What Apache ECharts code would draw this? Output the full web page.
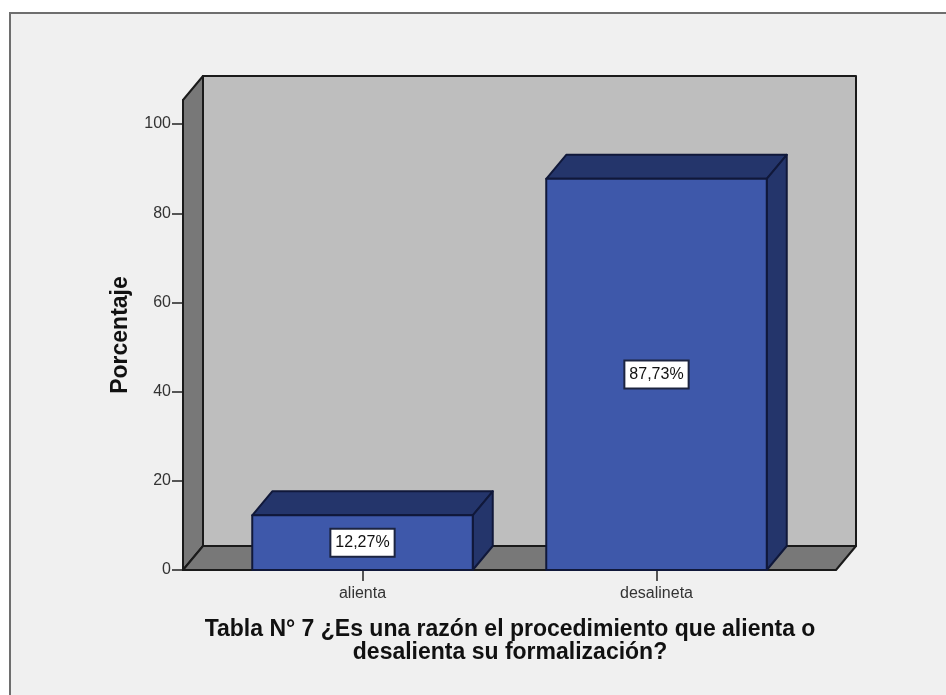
<!DOCTYPE html>
<html>
<head>
<meta charset="utf-8">
<style>
  html, body { margin: 0; padding: 0; background: #fff; overflow: hidden; }
  #frame { position: absolute; left: 9px; top: 12px; right: 0; bottom: 0; background: #f0f0f0;
           border-left: 2px solid #6e6e6e; border-top: 2px solid #6e6e6e; }
  #chart { position: absolute; left: 0; top: 0; width: 946px; height: 695px; }
</style>
<script src="https://cdn.jsdelivr.net/npm/echarts@6/dist/echarts.min.js"></script>
</head>
<body>
<div id="frame"></div>
<div id="chart"></div>
<script>
// Percentage of answers per category
const categories = ['alienta', 'desalineta'];
const percentages = [12.27, 87.73];
const yTicks = [0, 20, 40, 60, 80, 100];
const yTop = 105.4;
const titleText = 'Tabla N° 7 ¿Es una razón el procedimiento que alienta o\ndesalienta su formalización?';
const yName = 'Porcentaje';

// Box depth in pixels and floor margin beyond the category bands
const depthX = 20;
const depthY = 24;
const sidePad = 32.5;

const EDGE = '#1a1a1a';
const WALL = '#bebebe';
const SIDE = '#787878';
const BAR_FRONT = '#3e58aa';
const BAR_SHADE = '#24356b';
const BAR_EDGE = '#10183a';
const FONT = '"Liberation Sans", Arial, sans-serif';

function poly(points, fill, stroke, lineWidth) {
  return {
    type: 'polygon',
    shape: { points },
    style: { fill, stroke, lineWidth, lineJoin: 'round' }
  };
}

// Back wall, left wall and floor of the 3D plot box
function renderBox(params, api) {
  const c = params.coordSys;
  const l = c.x - sidePad, r = c.x + c.width + sidePad;
  const t = api.coord([0, yTop])[1], b = api.coord([0, 0])[1];
  return {
    type: 'group',
    children: [
      poly([[l + depthX, t - depthY], [r + depthX, t - depthY], [r + depthX, b - depthY], [l + depthX, b - depthY]], WALL, EDGE, 2),
      poly([[l, t], [l + depthX, t - depthY], [l + depthX, b - depthY], [l, b]], SIDE, EDGE, 2),
      poly([[l, b], [l + depthX, b - depthY], [r + depthX, b - depthY], [r, b]], SIDE, EDGE, 2)
    ]
  };
}

// One 3D bar with its boxed percentage label
function renderBar(params, api) {
  const idx = api.value(0);
  const val = api.value(1);
  const base = api.coord([idx, 0]);
  const head = api.coord([idx, val]);
  const half = api.size([1, 0])[0] * 0.75 / 2;
  const l = base[0] - half, r = base[0] + half;
  const t = head[1], b = base[1];
  return {
    type: 'group',
    children: [
      poly([[l, t], [l + depthX, t - depthY], [r + depthX, t - depthY], [r, t]], BAR_SHADE, BAR_EDGE, 2),
      poly([[r, t], [r + depthX, t - depthY], [r + depthX, b - depthY], [r, b]], BAR_SHADE, BAR_EDGE, 2),
      poly([[l, t], [r, t], [r, b], [l, b]], BAR_FRONT, BAR_EDGE, 2),
      {
        type: 'text',
        x: base[0],
        y: (t + b) / 2,
        style: {
          text: val.toFixed(2).replace('.', ',') + '%',
          font: '16px ' + FONT,
          fill: '#111',
          align: 'center',
          verticalAlign: 'middle',
          backgroundColor: '#fff',
          borderColor: '#1c2440',
          borderWidth: 2,
          padding: [5, 4, 5, 4]
        }
      }
    ]
  };
}

const chart = echarts.init(document.getElementById('chart'), null, { renderer: 'canvas' });
chart.setOption({
  animation: false,
  backgroundColor: 'transparent',
  title: {
    text: titleText,
    left: 505,
    top: 613,
    textAlign: 'center',
    textStyle: { fontFamily: FONT, fontSize: 23, fontWeight: 'bold', color: '#111', lineHeight: 23 }
  },
  grid: { left: 215.5, width: 588, top: 100, height: 470 },
  xAxis: {
    type: 'category',
    data: categories,
    axisLine: { show: false },
    axisTick: { show: true, alignWithLabel: true, length: 11, lineStyle: { color: '#222', width: 1.5 } },
    axisLabel: { color: '#333', fontFamily: FONT, fontSize: 16, margin: 16 }
  },
  yAxis: {
    type: 'value',
    min: 0,
    max: yTop,
    offset: sidePad,
    name: yName,
    nameLocation: 'middle',
    nameGap: 51,
    nameTextStyle: { fontFamily: FONT, fontSize: 23, fontWeight: 'bold', color: '#111' },
    splitLine: { show: false },
    axisLine: { show: true, lineStyle: { color: EDGE, width: 2 } },
    axisTick: { show: true, length: 11, customValues: yTicks, lineStyle: { color: '#222', width: 1.5 } },
    axisLabel: { color: '#333', fontFamily: FONT, fontSize: 16, margin: 12, padding: [5, 0, 0, 0], customValues: yTicks }
  },
  series: [
    {
      type: 'custom',
      renderItem: renderBox,
      data: [[0]],
      silent: true,
      clip: false,
      z: 1
    },
    {
      type: 'custom',
      renderItem: renderBar,
      data: percentages.map((v, i) => [i, v]),
      encode: { x: 0, y: 1 },
      clip: false,
      z: 2
    }
  ]
});
</script>
</body>
</html>
